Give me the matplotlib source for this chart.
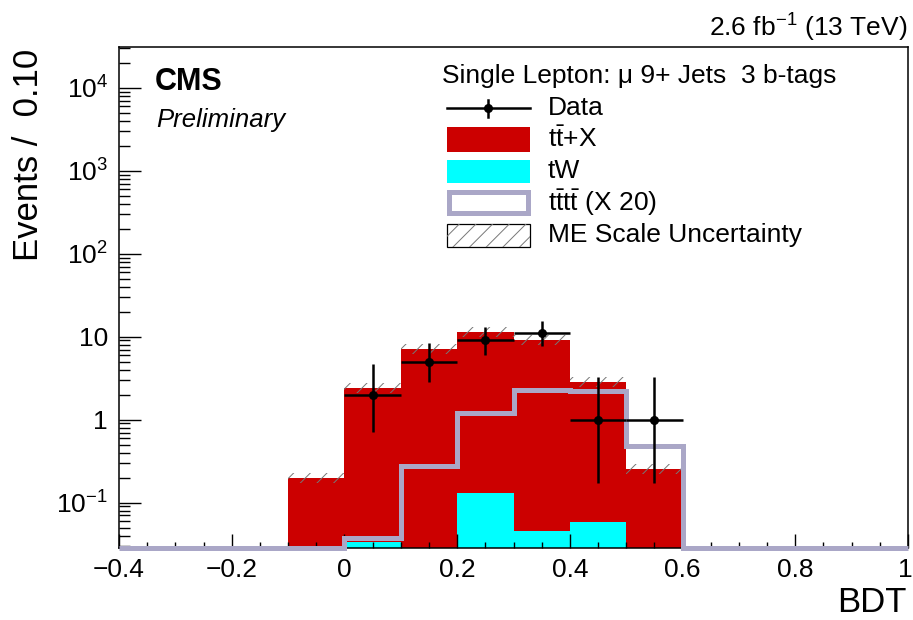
import numpy as np
import matplotlib
matplotlib.use("Agg")
import matplotlib.pyplot as plt
import matplotlib.transforms as mtransforms
from matplotlib.patches import Rectangle
from matplotlib.lines import Line2D
from matplotlib.ticker import FixedLocator, NullFormatter

plt.rcParams["font.family"] = ["Liberation Sans", "DejaVu Sans"]
plt.rcParams["mathtext.fontset"] = "custom"
plt.rcParams["mathtext.rm"] = "Liberation Sans"
plt.rcParams["mathtext.it"] = "Liberation Sans:italic"
plt.rcParams["mathtext.bf"] = "Liberation Sans:bold"
plt.rcParams["hatch.linewidth"] = 0.7

# ---- histogram contents (BDT bins of width 0.1 from -0.4 to 1.0) ----
bin_edges = [-0.4, -0.3, -0.2, -0.1, 0.0, 0.1, 0.2, 0.3, 0.4, 0.5, 0.6, 0.7, 0.8, 0.9, 1.0]
ttx = [0, 0, 0, 0.20, 2.39, 7.14, 11.2, 9.05, 2.76, 0.254, 0, 0, 0, 0]
tw = [0, 0, 0, 0, 0.034, 0, 0.132, 0.0455, 0.059, 0, 0, 0, 0, 0]
tttt_x20 = [0, 0, 0, 0, 0.037, 0.273, 1.19, 2.28, 2.24, 0.485, 0, 0, 0, 0]
me_scale_rel = [0, 0, 0, 0.15, 0.15, 0.15, 0.15, 0.15, 0.15, 0.15, 0, 0, 0, 0]

data_x = [0.05, 0.15, 0.25, 0.35, 0.45, 0.55]
data_y = [2, 5, 9, 11, 1, 1]
data_lo = [0.708, 2.84, 6.06, 7.74, 0.173, 0.173]
data_hi = [4.64, 8.38, 13.15, 15.41, 3.30, 3.30]

x_ticks = [-0.4, -0.2, 0.0, 0.2, 0.4, 0.6, 0.8, 1.0]
x_tick_labels = ["\u22120.4", "\u22120.2", "0", "0.2", "0.4", "0.6", "0.8", "1"]
y_ticks = [0.1, 1, 10, 100, 1000, 10000]
y_tick_labels = ["$10^{-1}$", "1", "10", "$10^{2}$", "$10^{3}$", "$10^{4}$"]

RED = "#cc0000"
CYAN = "#00ffff"
TTTT = "#aaa7c7"
HATCH = "#777777"

W, H = 913, 620
fig = plt.figure(figsize=(W / 100, H / 100), dpi=100)


def fx(x):
    return x / W


def fy(y):
    return 1 - y / H


ax = fig.add_axes([fx(119), fy(548), fx(908) - fx(119), fy(47) - fy(548)])
ymin, ymax = 0.0284, 3.1e4
ax.set_yscale("log")
ax.set_xlim(-0.4, 1.0)
ax.set_ylim(ymin, ymax)

edges = np.array(bin_edges)
ttx = np.array(ttx)
tw = np.array(tw)
total = ttx + tw
floor = 1e-4

# stacked backgrounds: tW at the bottom, tt+X on top
ax.stairs(np.maximum(total, floor), edges, baseline=floor, fill=True,
          color=RED, linewidth=0, zorder=1)
ax.stairs(np.maximum(tw, floor), edges, baseline=floor, fill=True,
          color=CYAN, linewidth=0, zorder=1.1)

# ME scale uncertainty band
rel = np.array(me_scale_rel)
for i in range(len(total)):
    if total[i] > 0:
        ax.fill_between([edges[i], edges[i + 1]], total[i] / (1 + rel[i]),
                        total[i] * (1 + rel[i]), facecolor="none",
                        edgecolor=HATCH, hatch="//", linewidth=0, zorder=1.5)

# four-top signal scaled by 20
sig = np.maximum(np.array(tttt_x20), ymin)
ax.stairs(sig, edges, baseline=None, color=TTTT, linewidth=3.6,
          zorder=3, clip_on=False)

# data with asymmetric Poisson errors
dy = np.array(data_y, dtype=float)
yerr = [dy - np.array(data_lo), np.array(data_hi) - dy]
ax.errorbar(data_x, dy, xerr=0.05, yerr=yerr, fmt="o", color="black",
            markersize=5.5, elinewidth=1.8, capsize=0, zorder=4)

# axes styling
for side in ("top", "right", "left", "bottom"):
    ax.spines[side].set_linewidth(1.1)
ax.xaxis.set_major_locator(FixedLocator(x_ticks))
ax.xaxis.set_minor_locator(FixedLocator(np.round(np.arange(-0.4, 1.0001, 0.05), 2)))
ax.set_xticklabels(x_tick_labels)
ax.yaxis.set_major_locator(FixedLocator(y_ticks))
minor_y = [m * 10.0 ** e for e in range(-2, 5) for m in range(2, 10)]
ax.yaxis.set_minor_locator(FixedLocator(minor_y))
ax.yaxis.set_minor_formatter(NullFormatter())
ax.set_yticklabels(y_tick_labels)
ax.tick_params(which="both", direction="in", top=False, right=False,
               labelsize=19, width=1.0)
ax.tick_params(axis="y", which="major", length=15.5, pad=8)
ax.tick_params(axis="y", which="minor", length=8)
ax.tick_params(axis="x", which="major", length=10, pad=7)
ax.tick_params(axis="x", which="minor", length=4.5)

# keep the last x label inside the canvas
last = ax.get_xticklabels()[-1]
last.set_transform(last.get_transform() +
                   mtransforms.ScaledTranslation(-3 / 100, 0, fig.dpi_scale_trans))

# axis titles
fig.text(fx(29), fy(49), "Events /  0.10", rotation=90, ha="center", va="top",
         fontsize=25)
fig.text(fx(906), fy(603), "BDT", ha="right", va="center", fontsize=25)

# header texts
fig.text(fx(907), fy(37), "2.6 fb$^{-1}$ (13 TeV)", ha="right", va="baseline",
         fontsize=19)
fig.text(fx(155), fy(89.5), "CMS", ha="left", va="baseline", fontsize=22,
         fontweight="bold")
fig.text(fx(156), fy(127), "Preliminary", ha="left", va="baseline",
         fontsize=18.5, fontstyle="italic")

# legend
fig.text(fx(441.5), fy(83.5), "Single Lepton: \u03bc 9+ Jets  3 b-tags",
         ha="left", va="baseline", fontsize=19)
lx0, lx1, tx = 446.5, 529.5, 547.5
fig.add_artist(Line2D([fx(lx0), fx(lx1)], [fy(108.3), fy(108.3)],
                      color="black", lw=1.8, transform=fig.transFigure))
fig.add_artist(Line2D([fx(487.7), fx(487.7)], [fy(100), fy(116.7)],
                      color="black", lw=1.8, transform=fig.transFigure))
fig.add_artist(Line2D([fx(487.7)], [fy(108.3)], marker="o", markersize=5.5,
                      color="black", transform=fig.transFigure))
fig.text(fx(tx), fy(108.3), "Data", ha="left", va="center", fontsize=19)


def legend_box(y0, y1, **kw):
    fig.add_artist(Rectangle((fx(lx0), fy(y1)), fx(lx1) - fx(lx0), fy(y0) - fy(y1),
                             transform=fig.transFigure, **kw))


legend_box(127, 151.5, facecolor=RED, edgecolor="none")
fig.text(fx(tx), fy(139), r"t$\mathregular{\bar{t}}$+X", ha="left", va="center",
         fontsize=19)
legend_box(159.5, 183.5, facecolor=CYAN, edgecolor="none")
fig.text(fx(tx), fy(171), "tW", ha="left", va="center", fontsize=19)
fig.add_artist(Rectangle((fx(lx0 + 2), fy(213)), fx(lx1 - 2) - fx(lx0 + 2),
                         fy(192) - fy(213), transform=fig.transFigure,
                         facecolor="white", edgecolor=TTTT, linewidth=3.6))
fig.text(fx(tx), fy(202.5), r"t$\mathregular{\bar{t}}$t$\mathregular{\bar{t}}$ (X 20)",
         ha="left", va="center", fontsize=19)
legend_box(223.5, 246.5, facecolor="white", edgecolor="black", linewidth=0.9)
legend_box(223.5, 246.5, facecolor="none", edgecolor=HATCH, hatch="//",
           linewidth=0)
fig.text(fx(tx), fy(235), "ME Scale Uncertainty", ha="left", va="center",
         fontsize=19)

fig.savefig("out.png", dpi=100)
